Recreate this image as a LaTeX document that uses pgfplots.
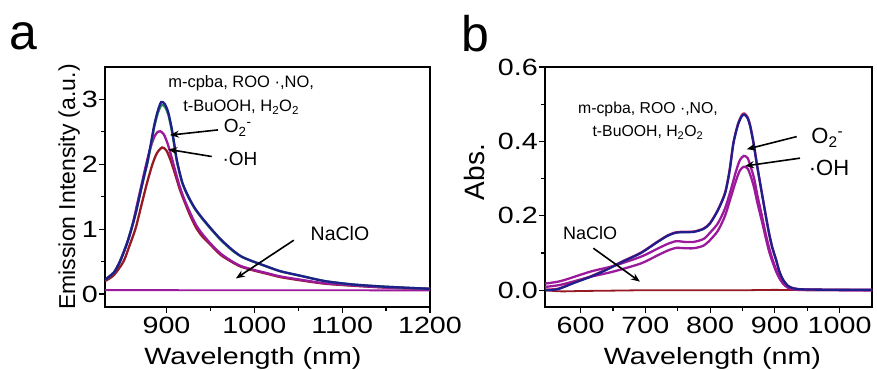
\documentclass[border=0pt]{standalone}
\usepackage{fontspec}
\setmainfont{Liberation Sans}
\newfontfamily\widefont{Liberation Sans}[FakeStretch=1.22]
\usepackage{pgfplots}
\pgfplotsset{compat=1.18}
\usetikzlibrary{arrows.meta}
\definecolor{navyc}{RGB}{30,30,140}
\definecolor{greenc}{RGB}{50,140,80}
\definecolor{purplec}{RGB}{155,25,155}
\definecolor{redc}{RGB}{150,25,35}
\definecolor{pinkc}{RGB}{210,40,100}

\pgfplotsset{myax/.style={
  scale only axis,
  axis line style={line width=1.6pt},
  tick style={line width=1.2pt, black},
  tick align=outside, tick pos=left,
  major tick length=6pt, minor tick length=4pt,
  minor tick num=1,
  scaled ticks=false,
  /pgf/number format/assume math mode=true,
  /pgf/number format/1000 sep={},
  tick label style={font=\widefont\fontsize{23.5}{25}\selectfont},
  yticklabel style={inner sep=1pt},
  xticklabel style={inner sep=0pt, yshift=-4pt},
  every axis plot/.append style={line width=2.3pt, no markers, smooth, tension=0.45},
}}

\begin{document}
\begin{tikzpicture}
\useasboundingbox (0pt,0pt) rectangle (877pt,369pt);
\node[anchor=base west, inner sep=0pt] at (9pt,319pt) {\fontsize{50}{52}\selectfont a};
\node[anchor=base west, inner sep=0pt] at (461pt,317pt) {\fontsize{50}{52}\selectfont b};

% ---------------- panel a ----------------
\begin{axis}[myax,
  at={(105pt,62pt)}, anchor=south west,
  width=325pt, height=240pt,
  xmin=830, xmax=1200, ymin=-0.2, ymax=3.5,
  xtick={900,1000,1100,1200}, ytick={0,1,2,3},
  xlabel={Wavelength (nm)},
  ylabel={Emission Intensity (a.u.)},
  every axis x label/.style={at={([yshift=-40pt]axis description cs:0.455,0)}, anchor=north, inner sep=0pt, font=\widefont\fontsize{23.5}{25}\selectfont},
  every axis y label/.style={at={([xshift=-25pt]axis description cs:0,0.5)}, rotate=90, anchor=south, inner sep=0pt, font=\fontsize{23}{25}\selectfont},
]
\addplot[purplec, line width=1.8pt] coordinates {(830,0.06) (900,0.06) (1000,0.058) (1100,0.057) (1200,0.056)};
\addplot[redc] coordinates {
(830,0.20) (840,0.29) (851,0.50) (858,0.75) (865,1.02) (872,1.40) (878,1.72) (884,2.00) (889,2.17) (895,2.26) (900,2.21) (905,2.05) (910,1.84) (915,1.62) (920,1.44) (926,1.24) (933,1.04) (940,0.90) (950,0.76) (962,0.60) (975,0.49) (985,0.42) (1000,0.36) (1015,0.31) (1030,0.26) (1053,0.21) (1080,0.16) (1110,0.13) (1150,0.10) (1200,0.08)};
\addplot[purplec] coordinates {
(830,0.22) (840,0.33) (847,0.50) (855,0.78) (861,1.05) (866,1.35) (871,1.65) (876,1.95) (881,2.22) (886,2.42) (890,2.50) (893,2.51) (897,2.46) (901,2.33) (905,2.15) (910,1.90) (915,1.66) (920,1.47) (926,1.28) (933,1.08) (940,0.94) (950,0.78) (962,0.62) (975,0.50) (985,0.43) (1000,0.37) (1015,0.32) (1030,0.27) (1053,0.22) (1080,0.165) (1110,0.135) (1150,0.10) (1200,0.08)};
\addplot[greenc] coordinates {
(830,0.22) (840,0.33) (847,0.50) (855,0.78) (860,1.00) (865,1.25) (870,1.55) (875,1.84) (878,2.00) (882,2.28) (886,2.57) (890,2.78) (894,2.91) (898,2.89) (902,2.77) (906,2.52) (909,2.28) (912,2.03) (918,1.71) (925,1.49) (932,1.32) (939,1.19) (950,1.01) (962,0.83) (975,0.67) (985,0.58) (995,0.52) (1005,0.47) (1015,0.42) (1030,0.35) (1053,0.28) (1080,0.20) (1110,0.15) (1140,0.12) (1168,0.10) (1200,0.08)};
\addplot[navyc] coordinates {
(830,0.22) (840,0.33) (847,0.50) (855,0.78) (860,1.00) (865,1.25) (870,1.55) (875,1.85) (878,2.02) (882,2.30) (886,2.60) (890,2.82) (894,2.96) (898,2.93) (902,2.80) (906,2.55) (909,2.30) (912,2.05) (918,1.72) (925,1.50) (932,1.33) (939,1.20) (950,1.02) (962,0.84) (975,0.68) (985,0.58) (995,0.52) (1005,0.47) (1015,0.42) (1030,0.35) (1053,0.28) (1080,0.20) (1110,0.15) (1140,0.12) (1168,0.10) (1200,0.08)};
\node[align=center, inner sep=0pt, font=\fontsize{16.5}{24}\selectfont] at (axis cs:985,3.07) {m-cpba, ROO ·,NO,\\t-BuOOH, H\textsubscript{2}O\textsubscript{2}};
\node[inner sep=0pt, font=\fontsize{19}{21}\selectfont] at (axis cs:981,2.56) {O\textsubscript{2}\textsuperscript{-}};
\node[inner sep=0pt, font=\fontsize{19}{21}\selectfont] at (axis cs:983.7,2.09) {·OH};
\node[inner sep=0pt, font=\fontsize{19.5}{21}\selectfont] at (axis cs:1097.5,0.936) {NaClO};
\draw[line width=1.6pt, -{Stealth[length=9pt,width=7pt]}] (axis cs:958.6,2.53) -- (axis cs:904,2.45);
\draw[line width=1.6pt, -{Stealth[length=9pt,width=7pt]}] (axis cs:951.5,2.12) -- (axis cs:902,2.23);
\draw[line width=1.6pt, -{Stealth[length=9pt,width=7pt]}] (axis cs:1045,0.83) -- (axis cs:979,0.24);
\end{axis}

% ---------------- panel b ----------------
\begin{axis}[myax,
  at={(545pt,62pt)}, anchor=south west,
  width=327pt, height=240pt,
  xmin=545, xmax=1050, ymin=-0.045, ymax=0.6,
  xtick={600,700,800,900,1000}, ytick={0,0.2,0.4,0.6},
  yticklabel style={/pgf/number format/.cd, fixed, fixed zerofill, precision=1},
  xlabel={Wavelength (nm)},
  ylabel={Abs.},
  every axis x label/.style={at={([yshift=-40pt]axis description cs:0.512,0)}, anchor=north, inner sep=0pt, font=\widefont\fontsize{23.5}{25}\selectfont},
  every axis y label/.style={at={([xshift=-60pt]axis description cs:0,0.5625)}, rotate=90, anchor=south, inner sep=0pt, font=\fontsize{28}{30}\selectfont},
]
\addplot[redc, line width=1.8pt] coordinates {(545,0.0) (570,-0.003) (600,-0.002) (650,-0.001) (700,0.0) (800,0.0) (850,0.0) (900,0.001) (960,0.0) (1050,0.0)};
\addplot[purplec] coordinates {
(545,0.009) (570,0.015) (615,0.036) (650,0.050) (693,0.072) (719,0.094) (735,0.107) (748,0.114) (760,0.113) (775,0.113) (790,0.120) (800,0.135) (812,0.160) (823,0.200) (832,0.250) (840,0.295) (846,0.322) (852,0.332) (858,0.327) (863,0.305) (868,0.275) (873,0.235) (880,0.185) (886,0.140) (891,0.105) (896,0.078) (902,0.050) (907,0.032) (913,0.017) (920,0.007) (929,0.003) (950,0.001) (1050,0.0)};
\addplot[purplec] coordinates {
(545,0.018) (570,0.025) (615,0.050) (650,0.065) (693,0.090) (719,0.112) (735,0.125) (748,0.132) (760,0.130) (775,0.130) (790,0.138) (800,0.155) (812,0.180) (823,0.220) (832,0.270) (840,0.320) (846,0.350) (852,0.361) (858,0.355) (863,0.330) (868,0.300) (873,0.255) (880,0.200) (886,0.150) (891,0.115) (896,0.085) (902,0.055) (907,0.035) (913,0.018) (920,0.008) (929,0.003) (950,0.001) (1050,0.0)};
\addplot[pinkc] coordinates {
(545,0.002) (565,0.004) (590,0.021) (615,0.037) (640,0.056) (665,0.078) (693,0.101) (719,0.131) (735,0.148) (748,0.156) (760,0.157) (775,0.158) (790,0.166) (800,0.181) (812,0.216) (823,0.262) (830,0.322) (836,0.397) (843,0.447) (849,0.471) (853,0.475) (858,0.465) (862,0.442) (867,0.397) (873,0.331) (880,0.260) (886,0.200) (891,0.153) (896,0.115) (902,0.081) (907,0.050) (913,0.027) (920,0.012) (929,0.005) (950,0.002) (1050,0.001)};
\addplot[navyc] coordinates {
(545,0.0) (565,0.003) (590,0.020) (615,0.036) (640,0.055) (665,0.077) (693,0.100) (719,0.130) (735,0.147) (748,0.155) (760,0.156) (775,0.157) (790,0.165) (800,0.180) (812,0.215) (823,0.260) (830,0.320) (836,0.395) (843,0.445) (849,0.468) (853,0.472) (858,0.462) (862,0.440) (867,0.395) (873,0.330) (880,0.260) (886,0.200) (891,0.153) (896,0.115) (902,0.081) (907,0.050) (913,0.027) (920,0.012) (929,0.005) (950,0.002) (1050,0.001)};
\node[align=center, inner sep=0pt, font=\fontsize{15.8}{22.7}\selectfont] at (axis cs:704,0.455) {m-cpba, ROO ·,NO,\\t-BuOOH, H\textsubscript{2}O\textsubscript{2}};
\node[inner sep=0pt, font=\fontsize{22}{24}\selectfont] at (axis cs:981,0.41) {O\textsubscript{2}\textsuperscript{-}};
\node[inner sep=0pt, font=\fontsize{22}{24}\selectfont] at (axis cs:983.6,0.33) {·OH};
\node[inner sep=0pt, font=\fontsize{18}{20}\selectfont] at (axis cs:614.5,0.153) {NaClO};
\draw[line width=1.6pt, -{Stealth[length=9pt,width=7pt]}] (axis cs:933.7,0.413) -- (axis cs:856.5,0.379);
\draw[line width=1.6pt, -{Stealth[length=9pt,width=7pt]}] (axis cs:938.8,0.355) -- (axis cs:853.9,0.334);
\draw[line width=1.6pt, -{Stealth[length=9pt,width=7pt]}] (axis cs:619.6,0.113) -- (axis cs:691.7,0.023);
\end{axis}
\end{tikzpicture}
\end{document}
